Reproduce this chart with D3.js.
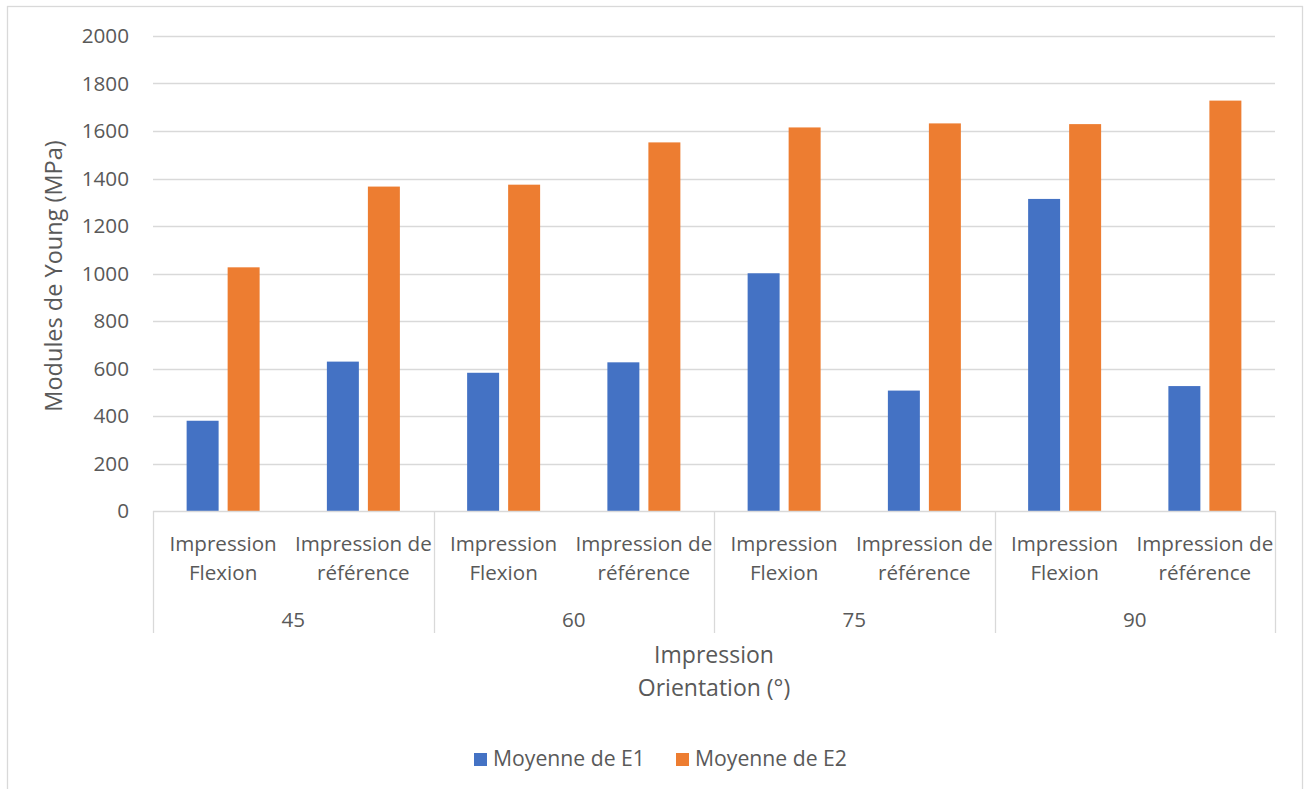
<!DOCTYPE html>
<html><head><meta charset="utf-8">
<script src="https://cdn.jsdelivr.net/npm/d3@7"></script>
<style>
body{margin:0;background:#fff;}
svg text{font-family:"Open Sans","Liberation Sans",sans-serif;fill:#595959;}
</style></head>
<body><svg id="c" width="1309" height="789"></svg>
<script>
const groups = ["45", "60", "75", "90"];
const subcategories = [["Impression", "Flexion"], ["Impression de", "référence"]];
const seriesNames = ["Moyenne de E1", "Moyenne de E2"];
const seriesColors = ["#4472C4", "#ED7D31"];
// values per group, per subcategory
const e1 = [380, 629, 582, 626, 1001, 507, 1314, 526];
const e2 = [1026, 1366, 1374, 1552, 1615, 1632, 1629, 1728];
const yTicks = [0, 200, 400, 600, 800, 1000, 1200, 1400, 1600, 1800, 2000];
const yTitle = "Modules de Young (MPa)";
const xTitle = ["Impression", "Orientation (°)"];

(function () {
const svg = d3.select("#c");
const pL = 153, pR = 1275, pT = 36, pB = 511;

svg.append("rect").attr("x", 7.5).attr("y", 6.5).attr("width", 1295).attr("height", 800)
  .attr("fill", "#fff").attr("stroke", "#d9d9d9").attr("stroke-width", 1.3);

const y = d3.scaleLinear().domain([0, 2000]).range([pB, pT]);
const cats = [];
groups.forEach((g, gi) => subcategories.forEach((s, si) => cats.push(gi * 2 + si)));
const x = d3.scaleBand().domain(cats).range([pL, pR]).paddingInner(0).paddingOuter(0);
const xs = d3.scaleBand().domain([0, 1]).range([0, x.bandwidth()]).paddingInner(0.22).paddingOuter(0.82);

// gridlines
svg.append("g").selectAll("line").data(yTicks.filter(d => d > 0)).join("line")
  .attr("x1", pL).attr("x2", pR).attr("y1", d => Math.round(y(d)) + 0.5).attr("y2", d => Math.round(y(d)) + 0.5)
  .attr("stroke", "#d9d9d9").attr("stroke-width", 1.3);

// y tick labels
svg.append("g").selectAll("text").data(yTicks).join("text")
  .attr("x", 129).attr("y", d => y(d)).attr("dy", "0.36em").attr("text-anchor", "end")
  .attr("font-size", 20.7).text(d => d);

// bars
const series = [e1, e2];
series.forEach((vals, si) => {
  svg.append("g").selectAll("rect").data(vals).join("rect")
    .attr("x", (d, i) => x(i) + xs(si)).attr("width", xs.bandwidth())
    .attr("y", d => y(d)).attr("height", d => y(0) - y(d))
    .attr("fill", seriesColors[si]);
});

// x axis line
svg.append("line").attr("x1", pL).attr("x2", pR).attr("y1", pB + 0.5).attr("y2", pB + 0.5)
  .attr("stroke", "#d9d9d9").attr("stroke-width", 1.3);
// group separators
const gb = d3.range(groups.length + 1).map(i => x(0) + i * 2 * x.bandwidth());
svg.append("g").selectAll("line").data(gb).join("line")
  .attr("x1", d => Math.round(d) + 0.5).attr("x2", d => Math.round(d) + 0.5)
  .attr("y1", pB).attr("y2", 633).attr("stroke", "#d9d9d9").attr("stroke-width", 1.3);

// subcategory labels
cats.forEach(i => {
  const lines = subcategories[i % 2];
  const cx = x(i) + x.bandwidth() / 2;
  lines.forEach((t, li) => {
    svg.append("text").attr("x", cx).attr("y", 551 + li * 29).attr("text-anchor", "middle")
      .attr("font-size", 20.6).text(t);
  });
});
// group labels
groups.forEach((g, gi) => {
  svg.append("text").attr("x", (gb[gi] + gb[gi + 1]) / 2).attr("y", 627).attr("text-anchor", "middle")
    .attr("font-size", 20.6).text(g);
});

// axis titles
xTitle.forEach((t, i) => {
  svg.append("text").attr("x", (pL + pR) / 2).attr("y", 663 + i * 33).attr("text-anchor", "middle")
    .attr("font-size", 23).text(t);
});
svg.append("text").attr("transform", `translate(62,276) rotate(-90)`)
  .attr("text-anchor", "middle").attr("font-size", 23.5).text(yTitle);

// legend
const lx = [474, 676];
seriesNames.forEach((n, i) => {
  svg.append("rect").attr("x", lx[i]).attr("y", 753).attr("width", 13).attr("height", 13).attr("fill", seriesColors[i]);
  svg.append("text").attr("x", lx[i] + 19).attr("y", 766).attr("font-size", 21.2).text(n);
});
})();
</script></body></html>
